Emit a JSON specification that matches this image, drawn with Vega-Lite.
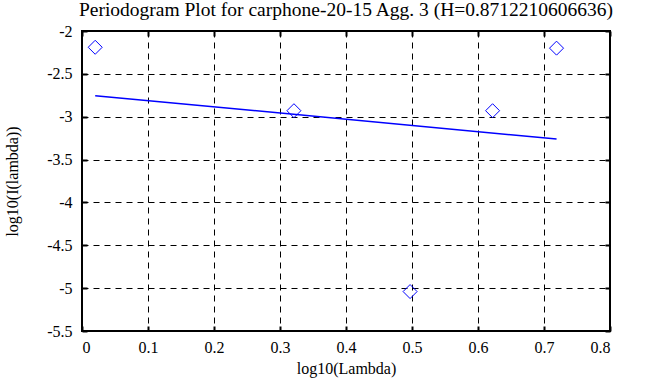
{
  "$schema": "https://vega.github.io/schema/vega-lite/v6.json",
  "width": 528,
  "height": 300,
  "autosize": {"type": "none"},
  "padding": {"left": 82, "top": 31, "right": 53, "bottom": 56},
  "background": "white",
  "title": {
    "text": "Periodogram Plot for carphone-20-15 Agg. 3 (H=0.8712210606636)",
    "font": "Liberation Serif",
    "fontSize": 19.5,
    "fontWeight": "normal",
    "color": "black",
    "anchor": "middle",
    "offset": 3
  },
  "config": {
    "view": {"stroke": "black", "strokeWidth": 2},
    "axis": {
      "labelFont": "Liberation Serif",
      "labelFontSize": 16,
      "labelColor": "black",
      "titleFont": "Liberation Serif",
      "titleFontSize": 16,
      "titleFontWeight": "normal",
      "titleColor": "black",
      "domain": false,
      "tickColor": "black",
      "tickWidth": 2,
      "tickSize": -5,
      "grid": true,
      "gridColor": "black",
      "gridOpacity": 1,
      "gridWidth": 1,
      "gridDash": [6, 5]
    }
  },
  "datasets": {
    "pts": [
      {"x": 0.0200, "y": -2.19},
      {"x": 0.3211, "y": -2.93},
      {"x": 0.4971, "y": -5.04},
      {"x": 0.6221, "y": -2.93},
      {"x": 0.7190, "y": -2.20}
    ],
    "fit": [
      {"x": 0.0200, "y": -2.755},
      {"x": 0.7190, "y": -3.26}
    ]
  },
  "layer": [
    {
      "data": {"name": "pts"},
      "mark": {"type": "point", "shape": "diamond", "size": 196, "filled": false, "color": "blue", "strokeWidth": 1, "opacity": 1},
      "encoding": {
        "x": {
          "field": "x", "type": "quantitative",
          "scale": {"domain": [0, 0.8], "nice": false, "zero": false},
          "axis": {"orient": "bottom", "values": [0, 0.1, 0.2, 0.3, 0.4, 0.5, 0.6, 0.7, 0.8], "format": "~g", "title": "log10(Lambda)", "labelPadding": 13, "titlePadding": 5}
        },
        "y": {
          "field": "y", "type": "quantitative",
          "scale": {"domain": [-5.5, -2], "nice": false, "zero": false},
          "axis": {"orient": "left", "values": [-5.5, -5, -4.5, -4, -3.5, -3, -2.5, -2], "labelExpr": "replace(datum.label, '\u2212', '-')", "format": "~g", "title": "log10(I(lambda))", "labelPadding": 15, "titlePadding": 26}
        }
      }
    },
    {
      "data": {"name": "fit"},
      "mark": {"type": "line", "color": "blue", "strokeWidth": 1.5},
      "encoding": {
        "x": {
          "field": "x", "type": "quantitative",
          "axis": {"orient": "top", "values": [0, 0.1, 0.2, 0.3, 0.4, 0.5, 0.6, 0.7, 0.8], "labels": false, "title": null, "grid": false}
        },
        "y": {
          "field": "y", "type": "quantitative",
          "axis": {"orient": "right", "values": [-5.5, -5, -4.5, -4, -3.5, -3, -2.5, -2], "labels": false, "title": null, "grid": false}
        }
      }
    }
  ],
  "resolve": {"axis": {"x": "independent", "y": "independent"}}
}
